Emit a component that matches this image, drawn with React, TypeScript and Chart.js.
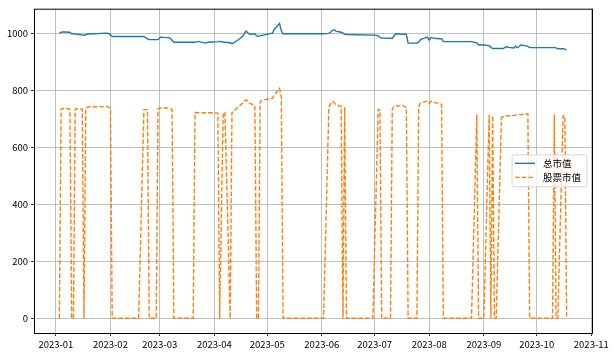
import React, { useEffect, useRef } from "react";
import { Chart, registerables } from "chart.js";

Chart.register(...registerables);

const seriesNames = ["总市值", "股票市值"];
const monthLabels = ["2023-01", "2023-02", "2023-03", "2023-04", "2023-05", "2023-06", "2023-07", "2023-08", "2023-09", "2023-10", "2023-11"];
const yTickValues = [0, 200, 400, 600, 800, 1000];

const totalDates = [
  "01-03", "01-04", "01-05", "01-06", "01-09", "01-10", "01-11", "01-12", "01-13", "01-16", "01-17", "01-18", "01-19", "01-20",
  "01-30", "01-31", "02-01", "02-02", "02-20", "02-21", "02-22", "02-23", "02-28", "03-01", "03-02", "03-03", "03-06", "03-07",
  "03-08", "03-09", "03-21", "03-22", "03-23", "03-24", "03-27", "03-28", "03-29", "03-30", "03-31", "04-03", "04-04", "04-06",
  "04-07", "04-10", "04-11", "04-12", "04-13", "04-14", "04-17", "04-18", "04-19", "04-20", "04-21", "04-24", "04-25", "04-26",
  "04-27", "04-28", "05-04", "05-05", "05-08", "05-09", "05-10", "06-02", "06-05", "06-06", "06-07", "06-08", "06-09", "06-12",
  "06-13", "06-14", "06-15", "06-30", "07-03", "07-04", "07-05", "07-10", "07-11", "07-12", "07-13", "07-17", "07-19", "07-20",
  "07-25", "07-26", "07-27", "07-28", "07-31", "08-01", "08-02", "08-04", "08-07", "08-08", "08-09", "08-25", "08-28", "08-29",
  "09-01", "09-04", "09-05", "09-06", "09-12", "09-13", "09-14", "09-15", "09-18", "09-19", "09-20", "09-21", "09-22", "09-25",
  "09-26", "09-27", "10-11", "10-12", "10-13", "10-16", "10-17", "10-18",
];
const totalValues = [
  1002, 1005, 1006, 1006, 1005, 1000, 1000, 999, 998, 996, 994, 997, 999, 999,
  1002, 1000, 996, 990, 990, 986, 982, 979, 979, 985, 988, 987, 986, 984,
  977, 970, 970, 971, 973, 971, 967, 969, 971, 970, 971, 972, 973, 971,
  970, 968, 965, 968, 972, 976, 990, 1000, 1009, 1003, 998, 1000, 992, 991,
  993, 994, 1002, 1015, 1036, 1010, 1000, 1000, 1001, 1006, 1012, 1014, 1009, 1005,
  1002, 998, 997, 995, 993, 987, 985, 984, 983, 992, 1000, 998, 998, 967,
  967, 970, 979, 982, 988, 977, 986, 984, 982, 982, 972, 972, 968, 960,
  960, 958, 952, 948, 948, 952, 954, 952, 950, 956, 951, 955, 960, 957,
  955, 951, 951, 950, 947, 947, 946, 943,
];

const stockDates = [
  "01-03", "01-04", "01-06", "01-09", "01-10", "01-11", "01-12", "01-13", "01-16", "01-17", "01-18", "01-19", "01-20", "01-30",
  "01-31", "02-01", "02-02", "02-17", "02-20", "02-22", "02-23", "02-27", "02-28", "03-01", "03-02", "03-03", "03-06", "03-07",
  "03-08", "03-09", "03-20", "03-21", "03-24", "03-31", "04-03", "04-04", "04-06", "04-07", "04-10", "04-11", "04-12", "04-13",
  "04-14", "04-17", "04-18", "04-19", "04-20", "04-21", "04-24", "04-25", "04-26", "04-27", "04-28", "05-04", "05-05", "05-08",
  "05-09", "05-10", "06-02", "06-05", "06-06", "06-07", "06-08", "06-09", "06-12", "06-13", "06-14", "06-15", "06-30", "07-03",
  "07-04", "07-05", "07-10", "07-11", "07-12", "07-13", "07-14", "07-17", "07-18", "07-19", "07-20", "07-25", "07-26", "07-27",
  "07-28", "07-31", "08-01", "08-02", "08-03", "08-04", "08-07", "08-08", "08-09", "08-25", "08-28", "08-29", "09-01", "09-04",
  "09-05", "09-06", "09-07", "09-08", "09-11", "09-12", "09-13", "09-14", "09-15", "09-18", "09-20", "09-22", "09-25", "09-26",
  "09-27", "10-10", "10-11", "10-12", "10-13", "10-16", "10-17", "10-18",
];
const stockValues = [
  0, 735, 738, 735, 0, 0, 735, 736, 735, 0, 740, 742, 743, 744,
  742, 738, 0, 0, 733, 733, 0, 0, 736, 738, 740, 740, 738, 736,
  733, 0, 0, 723, 722, 722, 721, 0, 723, 723, 0, 723, 726, 733,
  740, 755, 762, 768, 762, 756, 748, 0, 0, 761, 766, 773, 784, 808,
  779, 0, 0, 741, 755, 762, 758, 750, 745, 0, 742, 0, 0, 733,
  733, 0, 0, 735, 744, 747, 746, 748, 744, 741, 0, 0, 742, 756,
  758, 764, 756, 762, 760, 758, 754, 752, 0, 0, 715, 0, 0, 715,
  0, 712, 0, 0, 706, 708, 710, 712, 711, 713, 715, 716, 718, 718,
  0, 0, 715, 0, 0, 712, 710, 0,
];

const dayOfYear = (md: string) => {
  const [m, d] = md.split("-").map(Number);
  return (Date.UTC(2023, m - 1, d) - Date.UTC(2023, 0, 1)) / 86400000;
};

const FONT = "'Noto Sans CJK SC', 'DejaVu Sans', sans-serif";

export default function App() {
  const ref = useRef<HTMLCanvasElement | null>(null);

  useEffect(() => {
    const canvas = ref.current;
    if (!canvas) return;

    const totalPts = totalDates.map((d, i) => ({ x: dayOfYear(d), y: totalValues[i] }));
    const stockPts = stockDates.map((d, i) => ({ x: dayOfYear(d), y: stockValues[i] }));
    const allX = [...totalPts, ...stockPts].map((p) => p.x);
    const allY = [...totalValues, ...stockValues];
    const xMin = Math.min(...allX), xMax = Math.max(...allX);
    const yMin = Math.min(...allY), yMax = Math.max(...allY);
    const xPad = (xMax - xMin) * 0.05, yPad = (yMax - yMin) * 0.05;
    const monthDays = monthLabels.map((l) => dayOfYear(l.slice(5) + "-01"));

    const framePlugin = {
      id: "frameLegend",
      afterDraw(chart: any) {
        const { ctx, chartArea: a } = chart;
        ctx.save();
        ctx.strokeStyle = "#000";
        ctx.lineWidth = 1;
        ctx.setLineDash([]);
        ctx.strokeRect(a.left + 0.5, a.top + 0.5, a.right - a.left, a.bottom - a.top);

        // legend (center right)
        const w = 75, h = 32;
        const lx = a.right - 5 - w;
        const ly = (a.top + a.bottom) / 2 - h / 2;
        ctx.beginPath();
        const r = 2;
        ctx.moveTo(lx + r, ly);
        ctx.lineTo(lx + w - r, ly);
        ctx.quadraticCurveTo(lx + w, ly, lx + w, ly + r);
        ctx.lineTo(lx + w, ly + h - r);
        ctx.quadraticCurveTo(lx + w, ly + h, lx + w - r, ly + h);
        ctx.lineTo(lx + r, ly + h);
        ctx.quadraticCurveTo(lx, ly + h, lx, ly + h - r);
        ctx.lineTo(lx, ly + r);
        ctx.quadraticCurveTo(lx, ly, lx + r, ly);
        ctx.closePath();
        ctx.fillStyle = "rgba(255,255,255,0.8)";
        ctx.fill();
        ctx.strokeStyle = "#d5d5d5";
        ctx.lineWidth = 1;
        ctx.stroke();

        const colors = ["#1f77b4", "#ff7f0e"];
        const dashes = [[], [4.7, 2]];
        seriesNames.forEach((name, i) => {
          const yy = ly + 8.5 + i * 14;
          ctx.beginPath();
          ctx.setLineDash(dashes[i]);
          ctx.strokeStyle = colors[i];
          ctx.lineWidth = 1.4;
          ctx.moveTo(lx + 3, yy);
          ctx.lineTo(lx + 23, yy);
          ctx.stroke();
          ctx.setLineDash([]);
          ctx.fillStyle = "#000";
          ctx.font = `9.5px ${FONT}`;
          ctx.textBaseline = "middle";
          ctx.textAlign = "left";
          ctx.fillText(name, lx + 31, yy + 0.5);
        });
        ctx.restore();
      },
    };

    const chart = new Chart(canvas, {
      type: "line",
      data: {
        datasets: [
          {
            label: seriesNames[0],
            data: totalPts,
            borderColor: "#1f77b4",
            borderWidth: 1.4,
            pointRadius: 0,
            tension: 0,
            fill: false,
          },
          {
            label: seriesNames[1],
            data: stockPts,
            borderColor: "#ff7f0e",
            borderWidth: 1.4,
            borderDash: [4.7, 2],
            pointRadius: 0,
            tension: 0,
            fill: false,
          },
        ],
      },
      options: {
        animation: false,
        responsive: false,
        devicePixelRatio: 1,
        parsing: false as any,
        layout: { padding: { top: 7, right: 22, left: 0, bottom: 0 } },
        plugins: { legend: { display: false }, tooltip: { enabled: false } },
        scales: {
          x: {
            type: "linear",
            min: xMin - xPad,
            max: xMax + xPad,
            afterBuildTicks: (scale: any) => {
              scale.ticks = monthDays.map((v) => ({ value: v }));
            },
            afterFit: (scale: any) => {
              scale.height = 22;
            },
            ticks: {
              autoSkip: false,
              maxRotation: 0,
              padding: 3,
              color: "#000",
              font: { family: FONT, size: 9.5 },
              callback: (v: any) => {
                const idx = monthDays.indexOf(Number(v));
                return idx >= 0 ? monthLabels[idx] : "";
              },
            },
            grid: { color: "#b0b0b0", lineWidth: 0.8, tickColor: "#000", tickLength: 3, drawTicks: true },
            border: { display: false },
          },
          y: {
            type: "linear",
            min: yMin - yPad,
            max: yMax + yPad,
            afterBuildTicks: (scale: any) => {
              scale.ticks = yTickValues.map((v) => ({ value: v }));
            },
            afterFit: (scale: any) => {
              scale.width = 34;
            },
            ticks: {
              padding: 3,
              color: "#000",
              font: { family: FONT, size: 9.5 },
              callback: (v: any) => String(v),
            },
            grid: { color: "#b0b0b0", lineWidth: 0.8, tickColor: "#000", tickLength: 3, drawTicks: true },
            border: { display: false },
          },
        },
      },
      plugins: [framePlugin],
    });

    return () => chart.destroy();
  }, []);

  return (
    <div style={{ position: "absolute", left: 0, top: 0, width: 614, height: 355, background: "#fff" }}>
      <canvas ref={ref} width={614} height={355} style={{ width: 614, height: 355, display: "block" }} />
    </div>
  );
}
